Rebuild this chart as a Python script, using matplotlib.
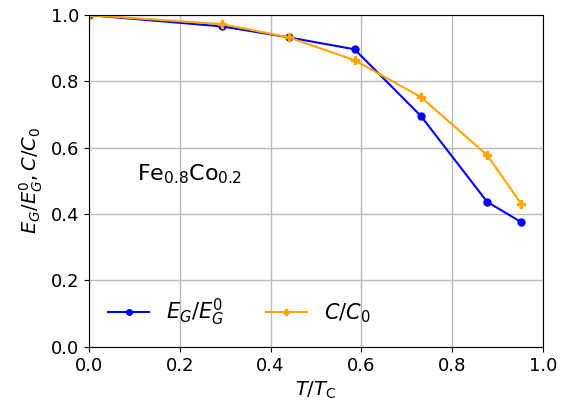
import numpy as np
from matplotlib import pyplot as plt

t_ratio = [0.0, 0.293, 0.44, 0.585, 0.731, 0.877, 0.952]
eg_ratio = [1.0, 0.966, 0.933, 0.897, 0.696, 0.437, 0.376]
c_ratio = [1.0, 0.973, 0.933, 0.864, 0.753, 0.578, 0.431]

fig = plt.figure(figsize=(5.74, 4.09), dpi=100)
ax = fig.add_axes([0.155, 0.152, 0.791, 0.811])

ax.plot(t_ratio, eg_ratio, color='blue', marker='o', markersize=5, lw=1.5,
        label=r'$E_G/E_G^0$')
ax.plot(t_ratio, c_ratio, color='orange', marker='P', markersize=6, lw=1.5,
        label=r'$C/C_0$')

ax.text(0.105, 0.52, r'Fe$_{0.8}$Co$_{0.2}$', fontsize=16, va='center')

ax.set_xlim(0, 1)
ax.set_ylim(0, 1)
ax.set_xticks(np.arange(0, 1.01, 0.2))
ax.set_yticks(np.arange(0, 1.01, 0.2))
ax.tick_params(labelsize=13)
ax.grid(True, color='#bbbbbb', lw=1)
ax.set_xlabel(r'$T/T_{\rm C}$', fontsize=14)
ax.set_ylabel(r'$E_G/E_G^0,C/C_0$', fontsize=14)
ax.legend(loc='lower left', ncol=2, frameon=False, fontsize=15,
          markerscale=0.8, bbox_to_anchor=(0.0, 0.0), columnspacing=2.0)

plt.savefig('out.png')
